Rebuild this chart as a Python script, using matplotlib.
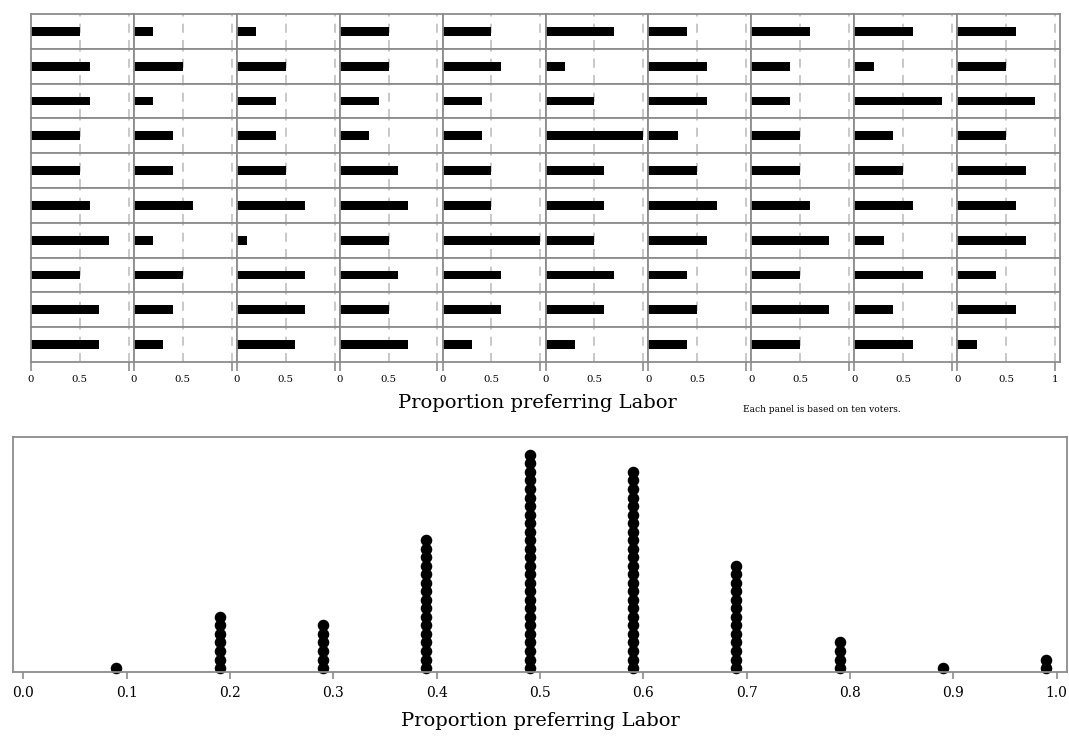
import numpy as np
import matplotlib.pyplot as plt

# proportion preferring Labor in each panel (ten voters per panel), top row first
row1 = [0.5, 0.2, 0.2, 0.5, 0.5, 0.7, 0.4, 0.6, 0.6, 0.6]
row2 = [0.6, 0.5, 0.5, 0.5, 0.6, 0.2, 0.6, 0.4, 0.2, 0.5]
row3 = [0.6, 0.2, 0.4, 0.4, 0.4, 0.5, 0.6, 0.4, 0.9, 0.8]
row4 = [0.5, 0.4, 0.4, 0.3, 0.4, 1.0, 0.3, 0.5, 0.4, 0.5]
row5 = [0.5, 0.4, 0.5, 0.6, 0.5, 0.6, 0.5, 0.5, 0.5, 0.7]
row6 = [0.6, 0.6, 0.7, 0.7, 0.5, 0.6, 0.7, 0.6, 0.6, 0.6]
row7 = [0.8, 0.2, 0.1, 0.5, 1.0, 0.5, 0.6, 0.8, 0.3, 0.7]
row8 = [0.5, 0.5, 0.7, 0.6, 0.6, 0.7, 0.4, 0.5, 0.7, 0.4]
row9 = [0.7, 0.4, 0.7, 0.5, 0.6, 0.6, 0.5, 0.8, 0.4, 0.6]
row10 = [0.7, 0.3, 0.6, 0.7, 0.3, 0.3, 0.4, 0.5, 0.6, 0.2]
props = np.array([row1, row2, row3, row4, row5, row6, row7, row8, row9, row10])

bottom_ticks = [0.0, 0.1, 0.2, 0.3, 0.4, 0.5, 0.6, 0.7, 0.8, 0.9, 1.0]
xlab = 'Proportion preferring Labor'
note = 'Each panel is based on ten voters.'

plt.rcParams['font.family'] = ['DejaVu Serif']
grey = '#8c8c8c'
W, H = 1069, 740

fig = plt.figure(figsize=(W / 100, H / 100), dpi=100)

# grid of small panels
gl, gr, gt, gb = 31 / W, 1060 / W, 1 - 14 / H, 1 - 362 / H
pw = (gr - gl) / 10
ph = (gt - gb) / 10
nr, nc = props.shape
for r in range(nr):
    for c in range(nc):
        ax = fig.add_axes([gl + c * pw, gt - (r + 1) * ph, pw, ph])
        ax.barh(0.5, props[r, c], height=0.25, color='black')
        for v in (0.5, 1.0):
            ax.axvline(v, color='#c4c4c4', lw=1.3, ls=(0, (5, 4)), zorder=0)
        ax.set_xlim(0, 1.053)
        ax.set_ylim(0, 1)
        ax.set_yticks([])
        for s in ax.spines.values():
            s.set_color(grey)
            s.set_linewidth(1.3)
        if r == nr - 1:
            ax.set_xticks([0, 1])
            ax.set_xticklabels(['0', '1' if c == nc - 1 else ''])
            ax.set_xticks([0.5], minor=True)
            ax.set_xticklabels(['0.5'], minor=True)
            ax.tick_params(axis='x', which='major', length=6.5, width=1.2,
                           color=grey, pad=2.5, labelsize=7.3)
            ax.tick_params(axis='x', which='minor', length=0, pad=9,
                           labelsize=7.3)
        else:
            ax.set_xticks([])

fig.text(537 / W, 1 - 403 / H, xlab, ha='center', va='center', fontsize=14)
fig.text(901 / W, 1 - 410 / H, note, ha='right', va='center', fontsize=6.5)

# dot plot of all panel proportions
ax2 = fig.add_axes([13 / W, 1 - 671.7 / H, (1067 - 13) / W, (671.7 - 437) / H])
vals, counts = np.unique(props.round(1), return_counts=True)
for v, n in zip(vals, counts):
    ax2.plot(np.full(n, v - 0.01), np.arange(n), 'o', color='black',
             ms=7.3, mec='black', clip_on=False, zorder=1)
ax2.set_xlim(-0.01, 1.01)
ax2.set_ylim(-0.43, 27.1)
ax2.set_yticks([])
ax2.set_xticks(bottom_ticks)
ax2.set_xticklabels(['%.1f' % t for t in bottom_ticks])
ax2.tick_params(axis='x', length=5, width=1.2, color=grey, labelsize=10, pad=5)
for s in ax2.spines.values():
    s.set_color(grey)
    s.set_linewidth(1.3)
    s.set_zorder(2)
ax2.set_xlabel(xlab, fontsize=14, labelpad=9)

fig.savefig('out.png', dpi=100)
